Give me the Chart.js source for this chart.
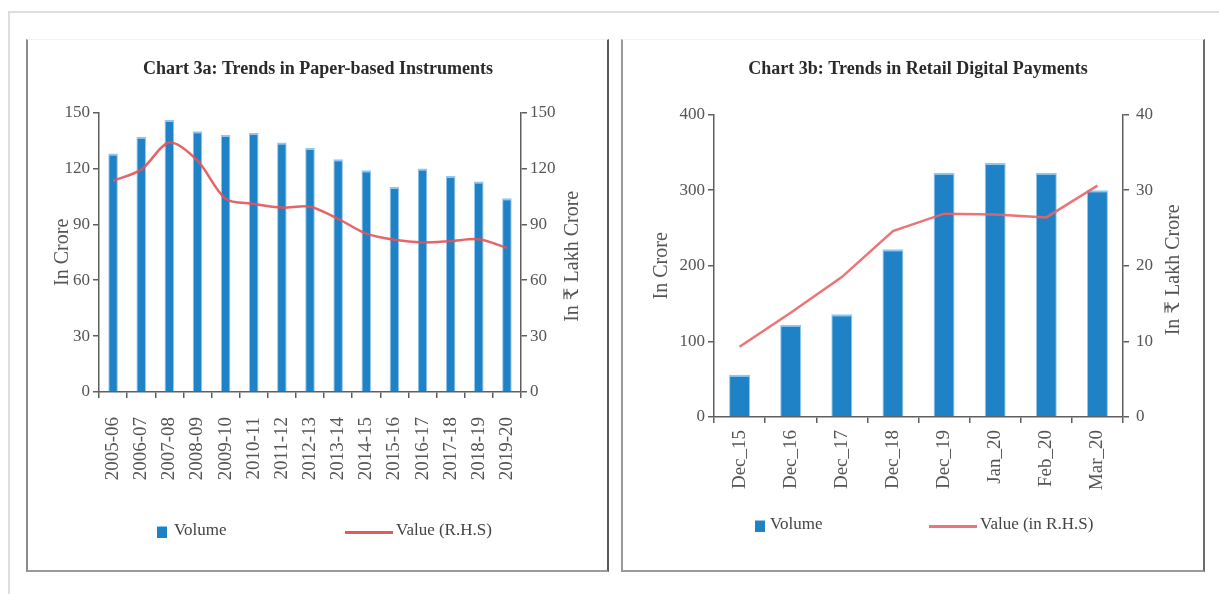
<!DOCTYPE html>
<html>
<head>
<meta charset="utf-8">
<script src="https://cdn.jsdelivr.net/npm/chart.js@4"></script>
<style>
  body { margin: 0; background: #fff; width: 1219px; height: 594px; overflow: hidden; position: relative; font-family: 'Liberation Serif', serif; }
  .frame { position: absolute; left: 8px; top: 11px; width: 1230px; height: 581px; border-top: 2px solid #dedede; border-left: 2px solid #dedede; border-bottom: 2px solid #e8e8e8; }
  .panel { position: absolute; top: 39px; height: 530px; border-top: 1px solid #f3f3f3; border-bottom: 2px solid #9a9a9a; }
  #panelA { left: 26px; width: 579px; border-left: 2px solid #8a8a8a; border-right: 2px solid #5a5a5a; }
  #panelB { left: 621px; width: 580px; border-left: 2px solid #9a9a9a; border-right: 2px solid #6a6a6a; }
  .panel canvas { position: absolute; left: 0; top: 0; }
  .lg { position: absolute; font-size: 17px; color: #444; white-space: nowrap; }
  .sq { position: absolute; width: 10px; height: 11px; background: #1f82c6; border-top: 1px solid #8fc4ec; }
  .ln { position: absolute; height: 3px; background: #e25a5c; }
</style>
</head>
<body>
<div class="frame"></div>
<div class="panel" id="panelA"><canvas id="chartA" width="580" height="530"></canvas></div>
<div class="panel" id="panelB"><canvas id="chartB" width="581" height="530"></canvas></div>

<div class="sq" style="left:157px; top:526px;"></div>
<div class="lg" style="left:174px; top:520px;">Volume</div>
<div class="ln" style="left:345px; top:531px; width:48px;"></div>
<div class="lg" style="left:396px; top:520px;">Value (R.H.S)</div>

<div class="sq" style="left:755px; top:520px;"></div>
<div class="lg" style="left:770px; top:514px;">Volume</div>
<div class="ln" style="left:929px; top:525px; width:48px; background:#ea7478;"></div>
<div class="lg" style="left:980px; top:514px;">Value (in R.H.S)</div>

<script>
const paperYears = ['2005-06', '2006-07', '2007-08', '2008-09', '2009-10', '2010-11', '2011-12', '2012-13',
    '2013-14', '2014-15', '2015-16', '2016-17', '2017-18', '2018-19', '2019-20'];
const paperVolume = [128, 137, 146, 140, 138, 139, 134, 131, 125, 119, 110, 120, 116, 113, 104];
const paperValue = [113.4, 119.4, 133.9, 124.2, 103.8, 101, 99, 99.5, 93, 85, 81.7, 80.3, 81, 82, 77.4];

const digitalMonths = ['Dec_15', 'Dec_16', 'Dec_17', 'Dec_18', 'Dec_19', 'Jan_20', 'Feb_20', 'Mar_20'];
const digitalVolume = [56, 122, 136, 222, 323, 336, 323, 300];
const digitalValue = [9.3, 13.8, 18.5, 24.6, 26.9, 26.8, 26.4, 30.6];

const SERIF = "'Liberation Serif', 'DejaVu Serif', serif";
const AXIS_COLOR = '#5f5f5f';
const TEXT_COLOR = '#555';
const RIGHT_TITLE = 'In ₹ Lakh Crore';

// right axis title reads bottom-to-top in the original, chart.js turns it the other way
const rightTitlePlugin = {
    id: 'rightTitle',
    afterDraw: function(chart) {
        const s = chart.scales.y1;
        const ctx = chart.ctx;
        ctx.save();
        ctx.translate(s.right - 16, (s.top + s.bottom) / 2 + 4);
        ctx.rotate(-Math.PI / 2);
        ctx.textAlign = 'center';
        ctx.textBaseline = 'middle';
        ctx.fillStyle = TEXT_COLOR;
        ctx.font = '20px ' + SERIF;
        ctx.fillText(RIGHT_TITLE, 0, 0);
        ctx.restore();
    }
};

function yAxis(pos, max, step, width, title, pad) {
    return {
        position: pos,
        min: 0,
        max: max,
        afterFit: function(scale) { scale.width = width; },
        grid: { drawOnChartArea: false, drawTicks: true, tickLength: 6, color: AXIS_COLOR, lineWidth: 1.5 },
        border: { display: true, color: AXIS_COLOR, width: 1.5 },
        ticks: { stepSize: step, padding: pad, color: TEXT_COLOR, font: { family: SERIF, size: 17 } },
        title: { display: title !== '', text: title, color: TEXT_COLOR, font: { family: SERIF, size: 20 }, padding: 4 }
    };
}

function makeChart(id, opts) {
    return new Chart(document.getElementById(id), {
        data: {
            labels: opts.labels,
            datasets: [
                {
                    type: 'line',
                    label: opts.lineLabel,
                    data: opts.line,
                    yAxisID: 'y1',
                    borderColor: opts.lineColor,
                    borderWidth: 2.5,
                    pointRadius: 0,
                    tension: opts.tension,
                    order: 0
                },
                {
                    type: 'bar',
                    label: 'Volume',
                    data: opts.bars,
                    yAxisID: 'y',
                    backgroundColor: '#1f82c6',
                    borderColor: '#92c6ee',
                    borderWidth: { top: 2, left: 1, right: 1, bottom: 0 },
                    barPercentage: opts.barPct,
                    categoryPercentage: 1,
                    order: 1
                }
            ]
        },
        options: {
            responsive: false,
            animation: false,
            layout: { padding: { left: opts.padLeft, right: opts.padRight, top: 0, bottom: 0 } },
            plugins: {
                legend: { display: false },
                tooltip: { enabled: false },
                title: {
                    display: true,
                    text: opts.title,
                    color: '#2a2a2a',
                    font: { family: SERIF, size: 18, weight: 'bold' },
                    padding: { top: 19, bottom: opts.titleGap }
                }
            },
            scales: {
                x: {
                    type: 'category',
                    offset: true,
                    afterFit: function(scale) { scale.height = opts.xHeight; },
                    grid: { offset: true, drawOnChartArea: false, drawTicks: true, tickLength: 6, color: AXIS_COLOR, lineWidth: 1.5 },
                    border: { display: true, color: AXIS_COLOR, width: 1.5 },
                    ticks: {
                        autoSkip: false,
                        minRotation: 90,
                        maxRotation: 90,
                        padding: opts.xPad,
                        color: TEXT_COLOR,
                        font: { family: SERIF, size: 19 }
                    }
                },
                y: yAxis('left', opts.yMax, opts.yStep, opts.yWidth, 'In Crore', 3),
                y1: yAxis('right', opts.y1Max, opts.y1Step, opts.y1Width, '', opts.y1Pad)
            }
        },
        plugins: [rightTitlePlugin]
    });
}

window.onload = function() {
    makeChart('chartA', {
        labels: paperYears,
        bars: paperVolume,
        line: paperValue,
        lineLabel: 'Value (R.H.S)',
        lineColor: 'rgba(226, 84, 88, 0.9)',
        tension: 0.3,
        barPct: 0.34,
        title: 'Chart 3a: Trends in Paper-based Instruments',
        titleGap: 32,
        padLeft: 19,
        padRight: 19,
        yWidth: 52,
        y1Width: 68,
        y1Pad: 3,
        xHeight: 178,
        xPad: 19,
        yMax: 150, yStep: 30,
        y1Max: 150, y1Step: 30
    });

    makeChart('chartB', {
        labels: digitalMonths,
        bars: digitalVolume,
        line: digitalValue,
        lineLabel: 'Value (in R.H.S)',
        lineColor: 'rgba(234, 100, 104, 0.9)',
        tension: 0,
        barPct: 0.41,
        title: 'Chart 3b: Trends in Retail Digital Payments',
        titleGap: 34,
        padLeft: 23,
        padRight: 14,
        yWidth: 68,
        y1Width: 67,
        y1Pad: 7,
        xHeight: 153,
        xPad: 7,
        yMax: 400, yStep: 100,
        y1Max: 40, y1Step: 10
    });
};
</script>
</body>
</html>
